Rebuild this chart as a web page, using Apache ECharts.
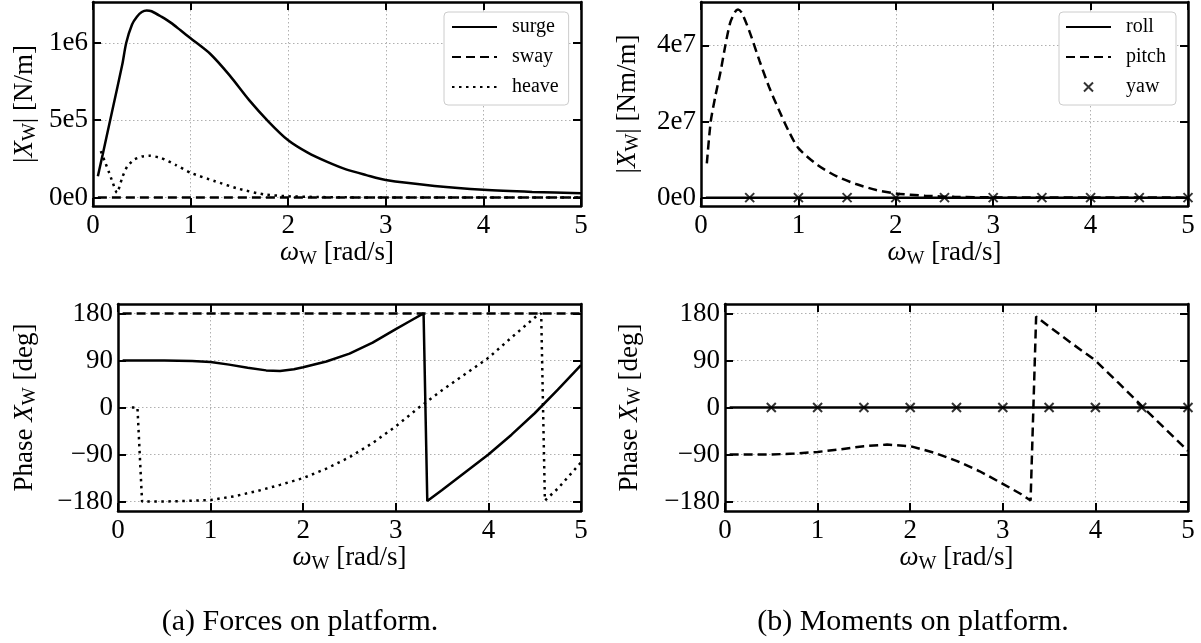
<!DOCTYPE html>
<html>
<head>
<meta charset="utf-8">
<script src="https://cdn.jsdelivr.net/npm/echarts@6/dist/echarts.min.js"></script>
<style>
  html, body { margin: 0; padding: 0; background: #fff; }
  #chart { width: 1201px; height: 643px; }
</style>
</head>
<body>
<div id="chart"></div>
<script>
// ---- forces, magnitude [N/m]
const surgeMagW = [0.05, 0.1, 0.2, 0.3, 0.34, 0.4, 0.45, 0.5, 0.55, 0.6, 0.7, 0.8, 0.9, 1.0, 1.2, 1.4, 1.6, 1.8, 2.0, 2.2, 2.4, 2.6, 2.8, 3.0, 3.5, 4.0, 4.5, 5.0]
const surgeMag = [1.38e5, 2.8e5, 5.7e5, 8.6e5, 1.0e6, 1.12e6, 1.17e6, 1.2e6, 1.21e6, 1.205e6, 1.17e6, 1.13e6, 1.08e6, 1.03e6, 0.93e6, 0.79e6, 0.63e6, 0.49e6, 0.37e6, 0.29e6, 0.23e6, 0.18e6, 0.145e6, 0.113e6, 0.075e6, 0.05e6, 0.036e6, 0.027e6]
const swayMagW = [0.05, 5.0]
const swayMag = [0, 0]
const heaveMagW = [0.08, 0.12, 0.16, 0.2, 0.245, 0.3, 0.35, 0.42, 0.5, 0.58, 0.7, 0.85, 1.0, 1.25, 1.5, 1.75, 2.0, 2.3, 2.6, 3.0, 4.0, 5.0]
const heaveMag = [3.0e5, 2.35e5, 1.7e5, 1.0e5, 0.3e5, 1.3e5, 2.0e5, 2.45e5, 2.65e5, 2.7e5, 2.55e5, 2.1e5, 1.6e5, 1.05e5, 0.55e5, 0.2e5, 0.08e5, 0.03e5, 0.01e5, 0, 0, 0]

// ---- forces, phase [deg]
const surgePhW = [0.05, 0.5, 0.8, 1.0, 1.2, 1.4, 1.6, 1.75, 1.9, 2.0, 2.25, 2.5, 2.75, 3.0, 3.15, 3.3, 3.34, 3.5, 3.75, 4.0, 4.25, 4.5, 4.75, 5.0]
const surgePh = [90, 90, 89, 87, 82, 76, 71, 70, 73, 77, 88, 103, 124, 150, 165, 180, -179, -158, -124, -90, -52, -11, 34, 81]
const swayPhW = [0.05, 5.0]
const swayPh = [180, 180]
const heavePhW = [0.15, 0.21, 0.26, 0.5, 1.0, 1.25, 1.5, 1.75, 2.0, 2.25, 2.5, 2.75, 3.0, 3.25, 3.5, 3.75, 4.0, 4.25, 4.5, 4.57, 4.61, 4.75, 5.0]
const heavePh = [0, 0, -180, -180, -177, -170, -160, -148, -135, -117, -95, -68, -36, 0, 33, 64, 95, 134, 172, 180, -178, -155, -105]

// ---- moments, magnitude [Nm/m]
const rollMagW = [0.05, 5.0]
const rollMag = [0, 0]
const pitchMagW = [0.06, 0.1, 0.15, 0.2, 0.25, 0.3, 0.35, 0.38, 0.42, 0.5, 0.6, 0.7, 0.8, 0.9, 1.0, 1.2, 1.4, 1.6, 1.8, 2.0, 2.3, 2.6, 3.0, 3.5, 4.0, 5.0]
const pitchMag = [0.9e7, 2.0e7, 2.7e7, 3.3e7, 4.0e7, 4.6e7, 4.88e7, 4.94e7, 4.85e7, 4.35e7, 3.6e7, 2.9e7, 2.3e7, 1.75e7, 1.3e7, 0.85e7, 0.55e7, 0.35e7, 0.2e7, 0.11e7, 0.05e7, 0.02e7, 0.008e7, 0.003e7, 0.001e7, 0]
const yawW = [0.5, 1.0, 1.5, 2.0, 2.5, 3.0, 3.5, 4.0, 4.5, 5.0]
const yawMag = [0, 0, 0, 0, 0, 0, 0, 0, 0, 0]

// ---- moments, phase [deg]
const rollPhW = [0.05, 5.0]
const rollPh = [0, 0]
const pitchPhW = [0.05, 0.5, 0.75, 1.0, 1.25, 1.5, 1.75, 2.0, 2.25, 2.5, 2.75, 3.0, 3.2, 3.3, 3.36, 3.5, 3.75, 4.0, 4.25, 4.5, 4.75, 5.0]
const pitchPh = [-90, -90, -88, -85, -80, -74, -71, -74, -86, -102, -122, -146, -166, -178, 174, 155, 122, 90, 47, 3, -40, -83]
const yawPh = [0, 0, 0, 0, 0, 0, 0, 0, 0, 0]

// ---- tick labels
const forceMagTicks = [0, 5e5, 1e6]
const forceMagLabels = ['0e0', '5e5', '1e6']
const momentMagTicks = [0, 2e7, 4e7]
const momentMagLabels = ['0e0', '2e7', '4e7']
const phaseTicks = [-180, -90, 0, 90, 180]
const phaseLabels = ['\u2212180', '\u221290', '0', '90', '180']

const FONT = '"Liberation Serif", "DejaVu Serif", serif'
const rich = {
  r: { fontFamily: FONT, fontSize: 27, lineHeight: 30, color: '#000' },
  i: { fontFamily: FONT, fontSize: 27, lineHeight: 30, fontStyle: 'italic', color: '#000' },
  s: { fontFamily: FONT, fontSize: 19, lineHeight: 19, verticalAlign: 'bottom', color: '#000' }
}

function pairs(xs, ys) {
  return xs.map((x, k) => [x, ys[k]])
}

const axisLine = { show: true, onZero: false, lineStyle: { color: '#000', width: 2.5 } }
const tick = { show: true, inside: true, length: 8, lineStyle: { color: '#000', width: 2 } }
const grid = { show: true, lineStyle: { color: '#b0b0b0', width: 1, type: [1.5, 2.5] } }

function xPair(gi) {
  return [{
    type: 'value', gridIndex: gi, min: 0, max: 5, interval: 1, position: 'bottom',
    name: '{i|ω}{s|W}{r| [rad/s]}', nameLocation: 'middle', nameGap: 30,
    nameTextStyle: { rich: rich },
    axisLine: axisLine, axisTick: tick, splitLine: grid,
    axisLabel: { margin: 6, fontFamily: FONT, fontSize: 27, color: '#000' }
  }, {
    type: 'value', gridIndex: gi, min: 0, max: 5, interval: 1, position: 'top',
    axisLine: axisLine, axisTick: tick, splitLine: { show: false }, axisLabel: { show: false }
  }]
}

function yPair(gi, min, max, ticks, labels, name, gap) {
  const fmt = v => {
    const k = ticks.indexOf(v)
    return k < 0 ? '' : labels[k]
  }
  return [{
    type: 'value', gridIndex: gi, min: min, max: max, position: 'left',
    name: name, nameLocation: 'middle', nameRotate: 90, nameGap: gap,
    nameTextStyle: { rich: rich },
    axisLine: axisLine,
    axisTick: Object.assign({ customValues: ticks }, tick),
    splitLine: grid,
    axisLabel: { customValues: ticks, formatter: fmt, margin: 5, fontFamily: FONT, fontSize: 27, color: '#000' }
  }, {
    type: 'value', gridIndex: gi, min: min, max: max, position: 'right',
    axisLine: axisLine,
    axisTick: Object.assign({ customValues: ticks }, tick),
    splitLine: { show: false }, axisLabel: { show: false }
  }]
}

const solid = { color: '#000', width: 2.5, type: 'solid' }
const dashed = { color: '#000', width: 2.5, type: [9, 5] }
const dotted = { color: '#000', width: 2.5, type: [2.5, 4.5] }

// smooth only the magnitude curves, the phase curves have wrap jumps
function line(name, gi, xs, ys, style, smooth) {
  return {
    name: name, type: 'line', xAxisIndex: 2 * gi, yAxisIndex: 2 * gi,
    data: pairs(xs, ys), symbol: 'none', lineStyle: style,
    smooth: smooth || false,
    itemStyle: { color: '#000' }, animation: false, z: 3
  }
}

const crossPath = 'path://M0,0L10,10M10,0L0,10'
function marks(name, gi, xs, ys) {
  return {
    name: name, type: 'scatter', xAxisIndex: 2 * gi, yAxisIndex: 2 * gi,
    data: pairs(xs, ys), symbol: crossPath, symbolSize: 9,
    itemStyle: { color: '#000', borderColor: '#000', borderWidth: 2 },
    animation: false, z: 4
  }
}

// line icons only, no dot in the middle
const noDot = { opacity: 0 }

const legendBase = {
  orient: 'vertical', top: 12, itemWidth: 45, itemHeight: 9, itemGap: 10,
  backgroundColor: '#fff', borderColor: '#cccccc', borderWidth: 1, borderRadius: 4,
  selectedMode: false,
  textStyle: { fontFamily: FONT, fontSize: 20, lineHeight: 20, color: '#000', padding: [0, 0, 0, 10] }
}

const chart = echarts.init(document.getElementById('chart'), null, { renderer: 'canvas' })
chart.setOption({
  backgroundColor: '#fff',
  animation: false,
  grid: [
    { left: 93, top: 2, width: 488, height: 204 },
    { left: 701, top: 2, width: 487, height: 204 },
    { left: 118, top: 304, width: 463, height: 207 },
    { left: 725, top: 304, width: 463, height: 207 }
  ],
  xAxis: [].concat(xPair(0), xPair(1), xPair(2), xPair(3)),
  yAxis: [].concat(
    yPair(0, -5.5e4, 1.265e6, forceMagTicks, forceMagLabels, '{r||}{i|X}{s|W}{r|| [N/m]}', 53),
    yPair(1, -2.2e6, 5.14e7, momentMagTicks, momentMagLabels, '{r||}{i|X}{s|W}{r|| [Nm/m]}', 58),
    yPair(2, -198, 198, phaseTicks, phaseLabels, '{r|Phase }{i|X}{s|W}{r| [deg]}', 78),
    yPair(3, -198, 198, phaseTicks, phaseLabels, '{r|Phase }{i|X}{s|W}{r| [deg]}', 80)
  ),
  legend: [
    Object.assign({}, legendBase, {
      left: 444, padding: [5, 10, 8, 7],
      data: [
        { name: 'surge', itemStyle: noDot },
        { name: 'sway', itemStyle: noDot },
        { name: 'heave', itemStyle: noDot }
      ]
    }),
    Object.assign({}, legendBase, {
      left: 1059, padding: [5, 10, 8, 6],
      data: [
        { name: 'roll', itemStyle: noDot },
        { name: 'pitch', itemStyle: noDot },
        'yaw'
      ]
    })
  ],
  series: [
    line('surge', 0, surgeMagW, surgeMag, solid, 0.25),
    line('sway', 0, swayMagW, swayMag, dashed),
    line('heave', 0, heaveMagW, heaveMag, dotted, 0.2),
    line('roll', 1, rollMagW, rollMag, solid),
    line('pitch', 1, pitchMagW, pitchMag, dashed, 0.25),
    marks('yaw', 1, yawW, yawMag),
    line('surge', 2, surgePhW, surgePh, solid),
    line('sway', 2, swayPhW, swayPh, dashed),
    line('heave', 2, heavePhW, heavePh, dotted),
    line('roll', 3, rollPhW, rollPh, solid),
    line('pitch', 3, pitchPhW, pitchPh, dashed),
    marks('yaw', 3, yawW, yawPh)
  ],
  graphic: [
    { type: 'text', x: 300, y: 622, style: { text: '(a) Forces on platform.', fontFamily: FONT, fontSize: 30, fill: '#000', align: 'center', verticalAlign: 'middle' } },
    { type: 'text', x: 913, y: 622, style: { text: '(b) Moments on platform.', fontFamily: FONT, fontSize: 30, fill: '#000', align: 'center', verticalAlign: 'middle' } }
  ]
})
</script>
</body>
</html>
